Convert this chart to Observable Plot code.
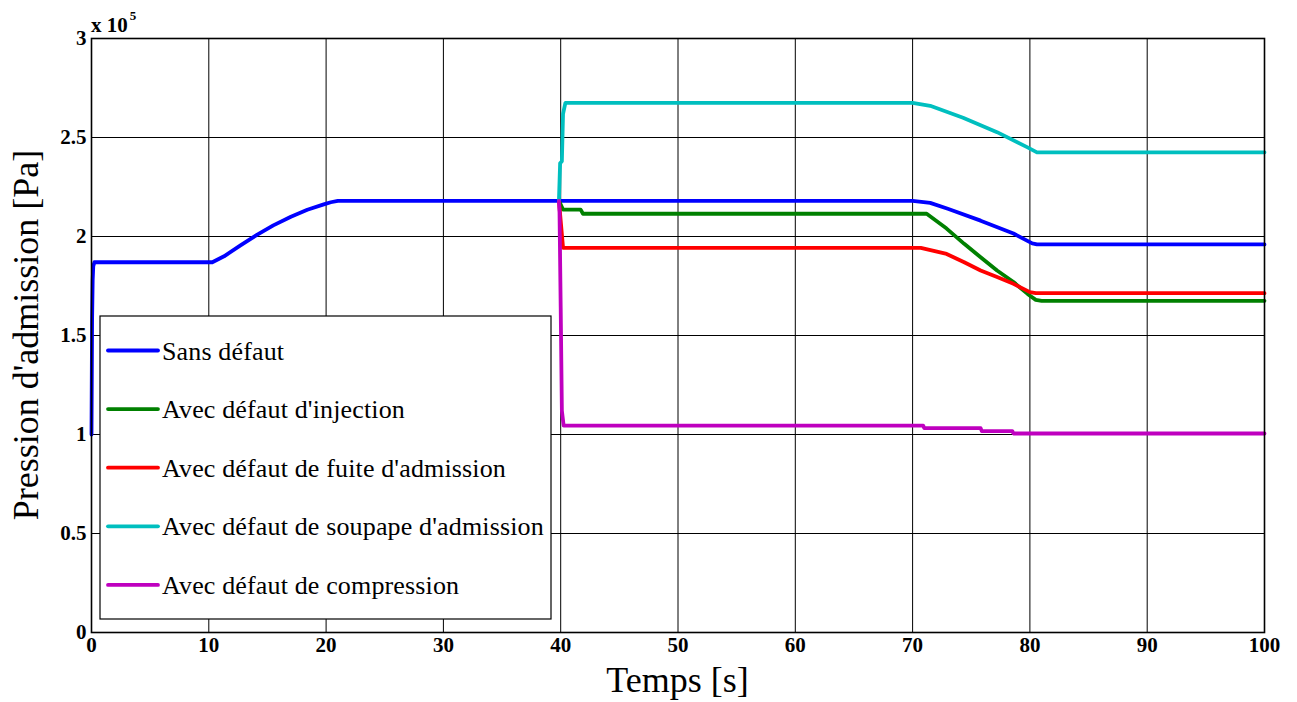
<!DOCTYPE html>
<html>
<head>
<meta charset="utf-8">
<script src="https://cdn.jsdelivr.net/npm/d3@7"></script>
<script src="https://cdn.jsdelivr.net/npm/@observablehq/plot@0.6"></script>
<style>
  html, body { margin: 0; padding: 0; background: #fff; }
  #chart svg { display: block; font-family: "Liberation Serif", "Times New Roman", serif; }
  #chart svg text { font-family: "Liberation Serif", "Times New Roman", serif; }
  #chart g[aria-label$="tick label"] text { font-weight: bold; }
</style>
</head>
<body>
<div id="chart"></div>
<script>
// Series names (legend order)
const seriesNames = [
  "Sans défaut",
  "Avec défaut d'injection",
  "Avec défaut de fuite d'admission",
  "Avec défaut de soupape d'admission",
  "Avec défaut de compression"
];
const seriesColors = ["#0000ff", "#008000", "#ff0000", "#00bfbf", "#bf00bf"];

// Values in units of 1e5 Pa, time in s
const sansT = [0, 0.05, 0.1, 0.15, 0.25, 0.4, 10.3, 11.3, 12.7, 14.1, 15.5, 17.0, 18.4, 19.8, 20.4, 21, 70, 71.5, 73, 75.8, 78.6, 80.2, 80.6, 100];
const sansV = [1.0, 1.58, 1.78, 1.85, 1.87, 1.87, 1.87, 1.90, 1.955, 2.008, 2.056, 2.10, 2.135, 2.162, 2.173, 2.18, 2.18, 2.17, 2.14, 2.08, 2.015, 1.965, 1.96, 1.96];

const injT = [39.85, 40.2, 41.7, 41.9, 71.2, 72.9, 74.4, 75.8, 77.2, 78.6, 79.8, 80.5, 81, 100];
const injV = [2.18, 2.136, 2.136, 2.115, 2.115, 2.04, 1.963, 1.895, 1.828, 1.77, 1.71, 1.68, 1.675, 1.675];

const fuiteT = [39.85, 40.2, 70.7, 72.9, 74.4, 75.8, 77.2, 78.6, 80, 80.5, 100];
const fuiteV = [2.18, 1.943, 1.943, 1.912, 1.87, 1.828, 1.795, 1.761, 1.719, 1.714, 1.714];

const soupT = [39.85, 39.95, 40.1, 40.2, 40.4, 70, 71.5, 74.3, 77.2, 79.8, 80.6, 100];
const soupV = [2.18, 2.37, 2.38, 2.62, 2.675, 2.675, 2.66, 2.60, 2.527, 2.45, 2.425, 2.425];

const compT = [39.85, 39.9, 40.0, 40.1, 40.25, 70.9, 71.0, 75.8, 75.9, 78.5, 78.6, 100];
const compV = [2.18, 2.12, 1.64, 1.12, 1.045, 1.045, 1.032, 1.032, 1.017, 1.017, 1.005, 1.005];

const xTicks = [0, 10, 20, 30, 40, 50, 60, 70, 80, 90, 100];
const yTicks = [0, 0.5, 1, 1.5, 2, 2.5, 3];
const yTickLabels = ["0", "0.5", "1", "1.5", "2", "2.5", "3"];

const allT = [sansT, injT, fuiteT, soupT, compT];
const allV = [sansV, injV, fuiteV, soupV, compV];
const data = [];
allT.forEach((ts, s) => ts.forEach((t, i) => data.push({t, v: allV[s][i], s: seriesNames[s]})));

const FF = "'Liberation Serif', 'Times New Roman', serif";
const W = 1297, H = 702;
const chart = Plot.plot({
  width: W, height: H,
  marginLeft: 91, marginRight: 33, marginTop: 38, marginBottom: 70,
  style: {fontFamily: FF},
  x: {domain: [0, 100], label: null},
  y: {domain: [0, 3], label: null},
  color: {domain: seriesNames, range: seriesColors},
  marks: [
    Plot.gridX(xTicks, {stroke: "black", strokeOpacity: 1, strokeWidth: 1}),
    Plot.gridY(yTicks, {stroke: "black", strokeOpacity: 1, strokeWidth: 1}),
    Plot.line(data, {x: "t", y: "v", z: "s", stroke: "s", strokeWidth: 3.8, strokeLinejoin: "round"}),
    Plot.axisX(xTicks, {tickSize: 0, tickPadding: 5, fontSize: 21, label: null}),
    Plot.axisY(yTicks, {tickSize: 0, tickPadding: 5, fontSize: 21, label: null,
      tickFormat: d => yTickLabels[yTicks.indexOf(d)]}),
    Plot.frame({stroke: "black", strokeWidth: 1.6})
  ]
});
document.getElementById("chart").appendChild(chart);

const svg = d3.select(chart);
const xs = chart.scale("x"), ys = chart.scale("y");
const pLeft = xs.range[0], pRight = xs.range[1];
const pTop = ys.range[1], pBottom = ys.range[0];

// exponent label
const ex = svg.append("text").attr("x", pLeft).attr("y", pTop - 6)
  .attr("text-anchor", "start").attr("font-family", FF)
  .attr("font-size", 21).attr("font-weight", "bold").attr("fill", "black").text("x 10");
ex.append("tspan").attr("font-size", 13).attr("dy", -12).attr("dx", 2).text("5");

// axis labels
svg.append("text").attr("x", (pLeft + pRight) / 2).attr("y", 692).attr("font-family", FF)
  .attr("text-anchor", "middle").attr("font-size", 36).attr("fill", "black").text("Temps [s]");
svg.append("text").attr("transform", `translate(38,${(pTop + pBottom) / 2}) rotate(-90)`)
  .attr("font-family", FF)
  .attr("text-anchor", "middle").attr("font-size", 36).attr("fill", "black").text("Pression d'admission [Pa]");

// legend
const lg = svg.append("g");
lg.append("rect").attr("x", 100).attr("y", 316).attr("width", 451).attr("height", 303)
  .attr("fill", "white").attr("stroke", "black").attr("stroke-width", 1.2);
seriesNames.forEach((name, i) => {
  const yy = 350.5 + i * 58.6;
  lg.append("line").attr("x1", 108).attr("x2", 158).attr("y1", yy).attr("y2", yy)
    .attr("stroke", seriesColors[i]).attr("stroke-width", 3.8).attr("stroke-linecap", "round");
  lg.append("text").attr("x", 162).attr("y", yy + 9).attr("font-size", 26).attr("font-family", FF)
    .attr("text-anchor", "start").attr("letter-spacing", 0.15)
    .attr("fill", "black").text(name);
});
</script>
</body>
</html>
